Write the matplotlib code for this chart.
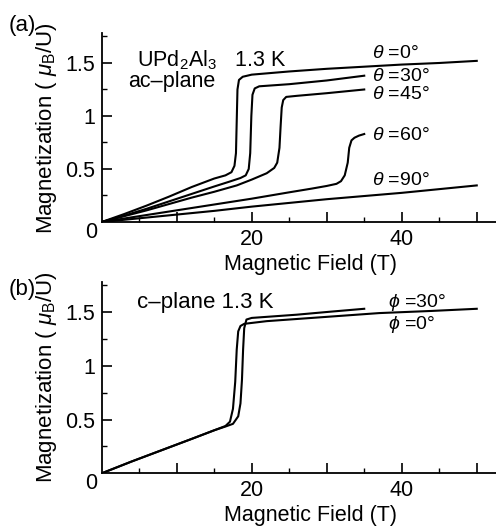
import matplotlib
matplotlib.use("Agg")
import matplotlib.pyplot as plt
from matplotlib.ticker import FixedLocator

plt.rcParams['font.family'] = ['Liberation Sans', 'DejaVu Sans']
plt.rcParams['mathtext.fontset'] = 'custom'
plt.rcParams['mathtext.rm'] = 'Liberation Sans'
plt.rcParams['mathtext.it'] = 'Liberation Sans:italic'
plt.rcParams['mathtext.bf'] = 'Liberation Sans:bold'

# ---------------- data: panel (a), ac-plane ----------------
field_a_0 = [0, 3, 6, 9, 12, 15, 16.5, 17.3, 17.7, 17.9, 18.0, 18.1, 18.3, 18.8, 20, 25, 30, 35, 40, 45, 50]
mag_a_0 = [0, 0.075, 0.155, 0.24, 0.33, 0.41, 0.44, 0.47, 0.53, 0.65, 0.95, 1.25, 1.34, 1.37, 1.39, 1.42, 1.445, 1.465, 1.485, 1.50, 1.52]

field_a_30 = [0, 3, 6, 9, 12, 15, 17, 18.5, 19.2, 19.6, 19.8, 19.95, 20.1, 20.4, 21, 25, 30, 35]
mag_a_30 = [0, 0.06, 0.125, 0.195, 0.265, 0.335, 0.38, 0.415, 0.44, 0.5, 0.65, 1.0, 1.2, 1.26, 1.28, 1.30, 1.335, 1.38]

field_a_45 = [0, 3, 6, 9, 12, 15, 18, 20, 22, 23.0, 23.4, 23.7, 23.85, 24.0, 24.2, 24.6, 26, 30, 35]
mag_a_45 = [0, 0.055, 0.11, 0.17, 0.23, 0.285, 0.345, 0.40, 0.46, 0.51, 0.56, 0.7, 0.9, 1.08, 1.15, 1.18, 1.19, 1.215, 1.25]

field_a_60 = [0, 5, 10, 15, 20, 25, 28, 30, 31.3, 31.9, 32.4, 32.8, 33.0, 33.3, 33.7, 34.3, 35]
mag_a_60 = [0, 0.055, 0.11, 0.165, 0.22, 0.28, 0.315, 0.34, 0.36, 0.385, 0.44, 0.56, 0.7, 0.77, 0.795, 0.815, 0.83]

field_a_90 = [0, 5, 10, 15, 20, 25, 30, 35, 40, 45, 50]
mag_a_90 = [0, 0.035, 0.07, 0.105, 0.145, 0.18, 0.215, 0.245, 0.275, 0.31, 0.345]

labels_a = [r"$\theta$ =0°", r"$\theta$ =30°", r"$\theta$ =45°", r"$\theta$ =60°", r"$\theta$ =90°"]
label_a_y = [1.594, 1.371, 1.198, 0.82, 0.396]

# ---------------- data: panel (b), c-plane ----------------
field_b_0 = [0, 4, 8, 12, 15, 16.5, 17.1, 17.5, 17.8, 18.0, 18.2, 18.5, 19, 22, 26, 30, 37, 44, 50]
mag_b_0 = [0, 0.11, 0.215, 0.32, 0.40, 0.44, 0.48, 0.6, 0.85, 1.15, 1.32, 1.37, 1.39, 1.415, 1.435, 1.455, 1.49, 1.51, 1.53]

field_b_30 = [0, 4, 8, 12, 15, 16.5, 17.5, 18.2, 18.5, 18.7, 18.85, 19.0, 19.3, 20, 23, 26, 30, 35]
mag_b_30 = [0, 0.11, 0.215, 0.32, 0.40, 0.435, 0.46, 0.53, 0.65, 0.87, 1.15, 1.35, 1.43, 1.445, 1.46, 1.475, 1.50, 1.53]

labels_b = [r"$\phi$ =30°", r"$\phi$ =0°"]
label_b_y = [1.587, 1.386]

x_major = [10, 20, 30, 40, 50]
x_ticklabels = ["", "20", "", "40", ""]
y_major = [0.5, 1.0, 1.5]
y_ticklabels = ["0.5", "1", "1.5"]

W, H = 496, 526
fig = plt.figure(figsize=(W / 100, H / 100), dpi=100)

ax_a = fig.add_axes([101.7 / W, (H - 222) / H, (495.5 - 101.7) / W, 188.7 / H])
ax_b = fig.add_axes([101.7 / W, (H - 473.3) / H, (495.5 - 101.7) / W, 191.4 / H])

lw = 1.5
col = 'black'
for f, m in [(field_a_0, mag_a_0), (field_a_30, mag_a_30), (field_a_45, mag_a_45),
             (field_a_60, mag_a_60), (field_a_90, mag_a_90)]:
    ax_a.plot(f, m, color=col, lw=lw, solid_joinstyle='round')
for f, m in [(field_b_0, mag_b_0), (field_b_30, mag_b_30)]:
    ax_b.plot(f, m, color=col, lw=lw, solid_joinstyle='round')

for lab, yy in zip(labels_a, label_a_y):
    ax_a.text(36.0, yy, lab, fontsize=14, ha='left', va='center')
for lab, yy in zip(labels_b, label_b_y):
    ax_b.text(38.2, yy, lab, fontsize=14, ha='left', va='center')

ax_a.text(4.7, 1.53, r"UPd$_2$Al$_3$   1.3 K", fontsize=15.5, ha='left', va='center')
ax_a.text(3.5, 1.33, "ac–plane", fontsize=15.5, ha='left', va='center')
ax_b.text(4.7, 1.584, "c–plane 1.3 K", fontsize=16, ha='left', va='center')

for ax in (ax_a, ax_b):
    ax.set_xlim(0, 52.5)
    ax.set_ylim(0, 1.78)
    for s in ('top', 'right'):
        ax.spines[s].set_visible(False)
    for s in ('left', 'bottom'):
        ax.spines[s].set_linewidth(1.3)
    ax.xaxis.set_major_locator(FixedLocator(x_major))
    ax.set_xticklabels(x_ticklabels)
    ax.xaxis.set_minor_locator(FixedLocator([5, 15, 25, 35, 45]))
    ax.yaxis.set_major_locator(FixedLocator(y_major))
    ax.set_yticklabels(y_ticklabels)
    ax.yaxis.set_minor_locator(FixedLocator([0.25, 0.75, 1.25, 1.75]))
    ax.tick_params(which='major', direction='in', length=7, width=1.2, labelsize=15.5, pad=5)
    ax.tick_params(which='minor', direction='in', length=3.5, width=1.0)
    ax.set_xlabel("Magnetic Field (T)", fontsize=15.5, labelpad=3)
    ax.xaxis.label.set_x(0.53)
    ax.set_ylabel(r"Magnetization ( $\mu_{\rm B}$/U)", fontsize=16, labelpad=4)
    ax.annotate("0", xy=(0, 0), xycoords='axes fraction', xytext=(-11, -10),
                textcoords='offset pixels', fontsize=15.5, ha='center', va='center')

fig.text(22 / W, 1 - 25 / H, "(a)", fontsize=16, ha='center', va='center')
fig.text(22 / W, 1 - 289 / H, "(b)", fontsize=16, ha='center', va='center')

fig.savefig("out.png", dpi=100)
